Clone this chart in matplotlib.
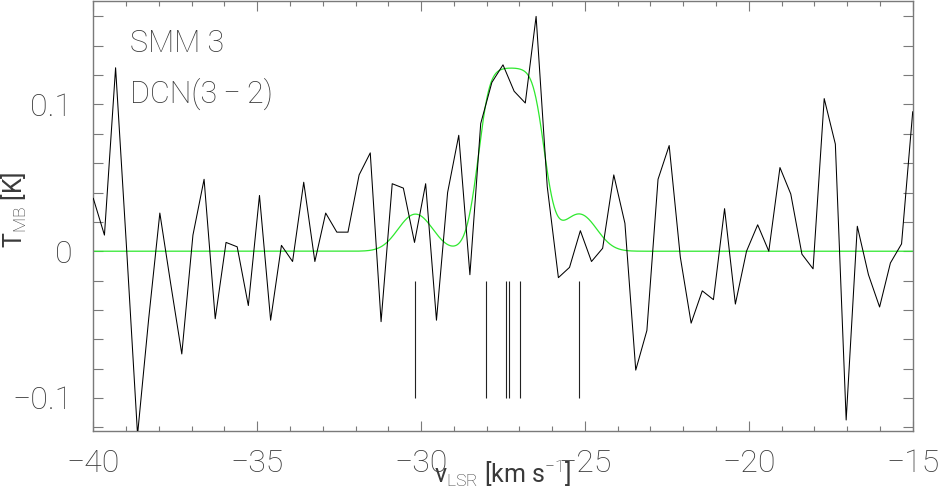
import numpy as np
import matplotlib
matplotlib.use("Agg")
import matplotlib.pyplot as plt
from matplotlib.ticker import MultipleLocator, FixedLocator, FuncFormatter

plt.rcParams['font.family'] = ['Roboto', 'DejaVu Sans']
plt.rcParams['font.weight'] = 'light'
plt.rcParams['mathtext.fontset'] = 'custom'
plt.rcParams['mathtext.rm'] = 'Roboto:light'
plt.rcParams['mathtext.it'] = 'Roboto:light'

# ---- data -------------------------------------------------------------
velocity = [-40.00, -39.66, -39.32, -38.99, -38.65, -38.31, -37.97, -37.64, -37.30, -36.96,
            -36.62, -36.28, -35.95, -35.61, -35.27, -34.93, -34.59, -34.26, -33.92, -33.58,
            -33.24, -32.91, -32.57, -32.23, -31.89, -31.55, -31.22, -30.88, -30.54, -30.20,
            -29.86, -29.53, -29.19, -28.85, -28.51, -28.18, -27.84, -27.50, -27.16, -26.82,
            -26.49, -26.15, -25.81, -25.47, -25.14, -24.80, -24.46, -24.12, -23.78, -23.45,
            -23.11, -22.77, -22.43, -22.09, -21.76, -21.42, -21.08, -20.74, -20.41, -20.07,
            -19.73, -19.39, -19.05, -18.72, -18.38, -18.04, -17.70, -17.36, -17.03, -16.69,
            -16.35, -16.01, -15.68, -15.34, -15.00]

tmb = [0.036, 0.011, 0.125, 0.004, -0.125, -0.046, 0.026, -0.022, -0.070, 0.011,
       0.049, -0.046, 0.006, 0.003, -0.037, 0.038, -0.047, 0.004, -0.007, 0.047,
       -0.007, 0.026, 0.013, 0.013, 0.052, 0.067, -0.048, 0.046, 0.043, 0.006,
       0.046, -0.047, 0.040, 0.079, -0.016, 0.087, 0.115, 0.127, 0.109, 0.101,
       0.160, 0.044, -0.018, -0.011, 0.014, -0.007, 0.002, 0.052, 0.019, -0.081,
       -0.054, 0.049, 0.072, -0.004, -0.049, -0.027, -0.033, 0.029, -0.036, 0.000,
       0.018, 0.000, 0.057, 0.039, -0.002, -0.012, 0.104, 0.073, -0.115, 0.017,
       -0.016, -0.038, -0.008, 0.005, 0.095]

# hyperfine components (positions of the vertical markers)
hfs_velocity = [-30.17, -28.03, -27.40, -27.32, -26.97, -25.17]

# HFS fit parameters: T = A * (1 - exp(-tau))
fit_amplitude = 0.1255
fit_tau = [0.225, 0.03, 1.9, 1.9, 1.72, 0.225]
fit_sigma = [0.50, 0.475, 0.475, 0.475, 0.475, 0.50]

source_name = "SMM 3"
line_name = "DCN(3\u2009\u2212\u20092)"

# ---- figure -----------------------------------------------------------
W, H = 943, 495
fig = plt.figure(figsize=(W / 100, H / 100), dpi=100)
ax = fig.add_axes([93.3 / W, (H - 431) / H, 819.4 / W, 430 / H])

text_color = '#3a3a3a'
frame_color = '#7a7a7a'

# fit model
v_model = np.linspace(-40, -15, 3000)
tau = np.zeros_like(v_model)
for vc, t, s in zip(hfs_velocity, fit_tau, fit_sigma):
    tau += t * np.exp(-(v_model - vc) ** 2 / (2 * s ** 2))
t_model = fit_amplitude * (1 - np.exp(-tau))

ax.plot(velocity, tmb, color='black', lw=0.75, zorder=3)
ax.plot(v_model, t_model, color='#2ee82e', lw=0.9, zorder=2)
ax.vlines(hfs_velocity, -0.10, -0.02, color='#222222', lw=0.8, zorder=2)

ax.set_xlim(-40, -15)
ax.set_ylim(-0.1225, 0.1705)

for sp in ax.spines.values():
    sp.set_color(frame_color)
    sp.set_linewidth(1.0)

ax.xaxis.set_major_locator(MultipleLocator(5))
ax.xaxis.set_minor_locator(MultipleLocator(1))
ax.yaxis.set_major_locator(FixedLocator([-0.1, 0.0, 0.1]))
ax.yaxis.set_minor_locator(FixedLocator([-0.12, -0.08, -0.06, -0.04, -0.02, 0.02, 0.04,
                                         0.06, 0.08, 0.12, 0.14, 0.16]))


def yfmt(v, pos):
    if abs(v) < 1e-9:
        return "0"
    return f"{v:.1f}".replace("-", "\u2212")


ax.yaxis.set_major_formatter(FuncFormatter(yfmt))

ax.tick_params(axis='both', which='both', direction='in', top=True, right=True,
               color=frame_color, labelcolor=text_color)
ax.tick_params(axis='x', which='major', length=7, width=0.8, labelsize=23, pad=13)
ax.tick_params(axis='x', which='minor', length=3.3, width=0.8)
ax.tick_params(axis='y', which='both', length=7.5, width=0.8, labelsize=23, pad=15)

ax.set_xlabel(r"v$_{\rm LSR}$ [km s$^{-1}$]", fontsize=18, color=text_color, labelpad=-15)
ax.set_ylabel(r"T$_{\rm MB}$ [K]", fontsize=18, color=text_color)
ax.yaxis.set_label_coords(-0.078, 0.514)

ax.text(-38.88, 0.1357, source_name, fontsize=22, color=text_color)
ax.text(-38.88, 0.101, line_name, fontsize=22, color=text_color)

fig.savefig("out.png", dpi=100)
